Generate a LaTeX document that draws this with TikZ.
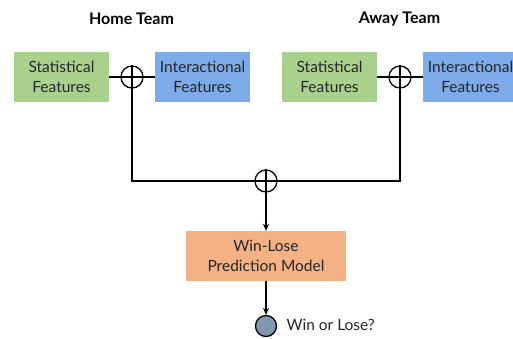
\documentclass[tikz,border=0pt]{standalone}
\usepackage{fontspec}
\setmainfont{Lato}
\usetikzlibrary{arrows.meta}
\definecolor{statg}{HTML}{A9D18E}
\definecolor{interb}{HTML}{7DAAE8}
\definecolor{modelo}{HTML}{F4B183}
\definecolor{outc}{HTML}{8497B0}
\begin{document}
\begin{tikzpicture}[x=1pt,y=-1pt,
  feat/.style={minimum width=95pt,minimum height=50pt,inner sep=0pt,align=center,font=\fontsize{15.5}{20.5}\selectfont,text=black!85},
  opl/.style={circle,draw,line width=1.3pt,minimum size=22pt,inner sep=0pt},
  ln/.style={line width=1.5pt},
  arr/.style={line width=1.5pt,-{Stealth[length=7pt,width=6pt]}},
  title/.style={font=\bfseries\fontsize{16}{18}\selectfont}]
\useasboundingbox (0,0) rectangle (513,338);
\node[title] (ht) at (131.5,19) {Home Team};
\node[title] (at) at (399.5,19) {Away Team};
\node[feat,fill=statg] (hs) at (61.5,77) {Statistical\\Features};
\node[feat,fill=interb] (hi) at (202.5,77) {Interactional\\Features};
\node[feat,fill=statg] (as) at (329.5,77) {Statistical\\Features};
\node[feat,fill=interb,minimum width=95pt] (ai) at (470.5,77) {Interactional\\Features};
\node[opl] (ho) at (132,77) {};
\node[opl] (ao) at (400,77) {};
\node[opl] (co) at (266,181) {};
\draw[ln] (ho.west) -- (ho.east) (ho.north) -- (ho.south);
\draw[ln] (ao.west) -- (ao.east) (ao.north) -- (ao.south);
\draw[ln] (co.west) -- (co.east) (co.north) -- (co.south);
\draw[ln] (hs.east) -- (ho.west);
\draw[ln] (ho.east) -- (hi.west);
\draw[ln] (as.east) -- (ao.west);
\draw[ln] (ao.east) -- (ai.west);
\draw[ln] (ho.south) |- (co.west);
\draw[ln] (ao.south) |- (co.east);
\node[minimum width=160pt,minimum height=50pt,inner sep=0pt,align=center,fill=modelo,font=\fontsize{15.5}{20.5}\selectfont,text=black!85] (m) at (266,256) {Win-Lose\\Prediction Model};
\draw[arr] (co.south) -- (m.north);
\node[circle,draw,line width=1.3pt,fill=outc,minimum size=21pt,inner sep=0pt] (out) at (266,326) {};
\draw[arr] (m.south) -- (out.north);
\node[anchor=west,font=\fontsize{15.5}{17}\selectfont,text=black!85] (lab) at (283,325) {Win or Lose?};
\end{tikzpicture}
\end{document}
